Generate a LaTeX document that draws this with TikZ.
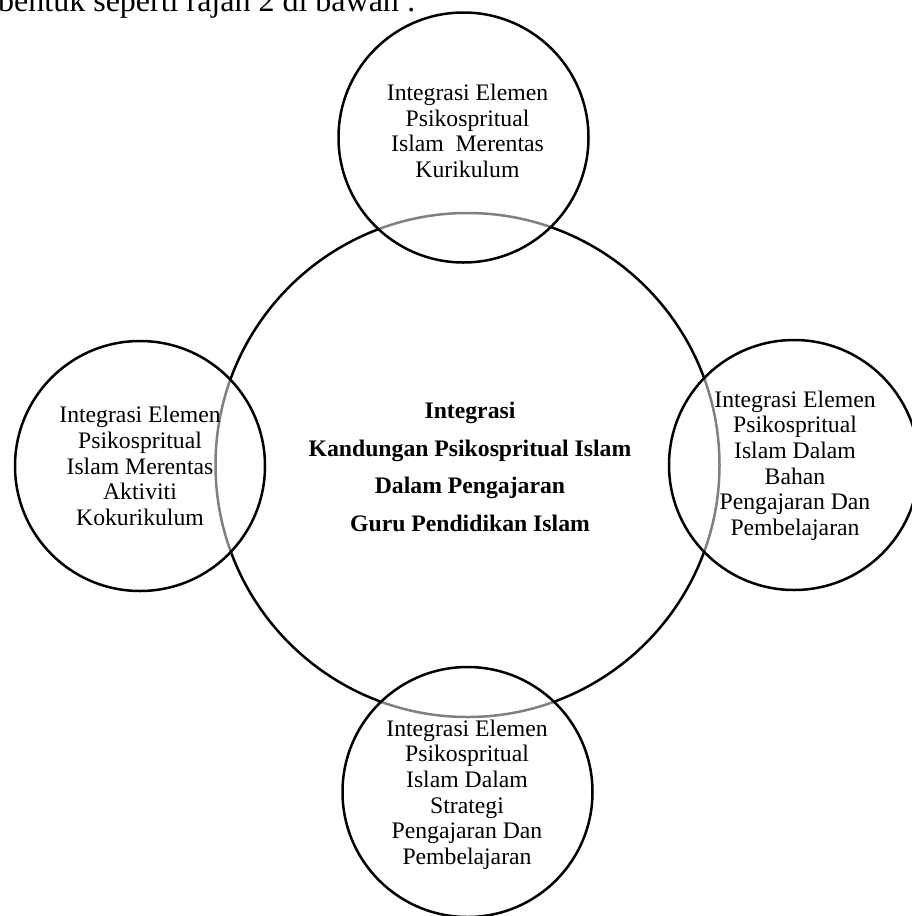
\documentclass[tikz,border=0pt]{standalone}
\usepackage{fontspec}
\setmainfont{Liberation Serif}
\begin{document}
\begin{tikzpicture}[x=1pt,y=-1pt,
  ring/.style={circle, draw=black, line width=2.5pt, inner sep=0pt, outer sep=0pt},
  bigring/.style={ring, minimum size=504pt},
  smallring/.style={ring, minimum size=250pt, fill=white, fill opacity=0.5},
  smalltext/.style={align=center, font=\fontsize{23.7}{25.6}\selectfont, inner sep=0pt},
  maintext/.style={align=center, font=\bfseries\fontsize{23.7}{37.7}\selectfont, inner sep=0pt}]
\useasboundingbox (0,0) rectangle (912,916);
\clip (0,0) rectangle (912,916);
\node[anchor=base west, inner sep=0pt] (caption) at (-2,11) {\fontsize{32}{32}\selectfont bentuk seperti rajah 2 di bawah :};
\node[bigring] (big) at (467.5,465) {};
\node[smallring] (top) at (463.5,137.5) {};
\node[smallring] (left) at (140,466) {};
\node[smallring] (right) at (794,465) {};
\node[smallring] (bottom) at (467.5,792) {};
\node[maintext] (bigtext) at (470,467) {Integrasi\\Kandungan Psikospritual Islam\\Dalam Pengajaran\\Guru Pendidikan Islam};
\node[smalltext] (toptext) at (467.5,131) {Integrasi Elemen\\Psikospritual\\Islam\ \ Merentas\\Kurikulum};
\node[smalltext] (lefttext) at (140,466) {Integrasi Elemen\\Psikospritual\\Islam Merentas\\Aktiviti\\Kokurikulum};
\node[smalltext] (righttext) at (795,465.5) {Integrasi Elemen\\Psikospritual\\Islam Dalam\\Bahan\\Pengajaran Dan\\Pembelajaran};
\node[smalltext] (bottomtext) at (467,794.5) {Integrasi Elemen\\Psikospritual\\Islam Dalam\\Strategi\\Pengajaran Dan\\Pembelajaran};
\end{tikzpicture}
\end{document}
